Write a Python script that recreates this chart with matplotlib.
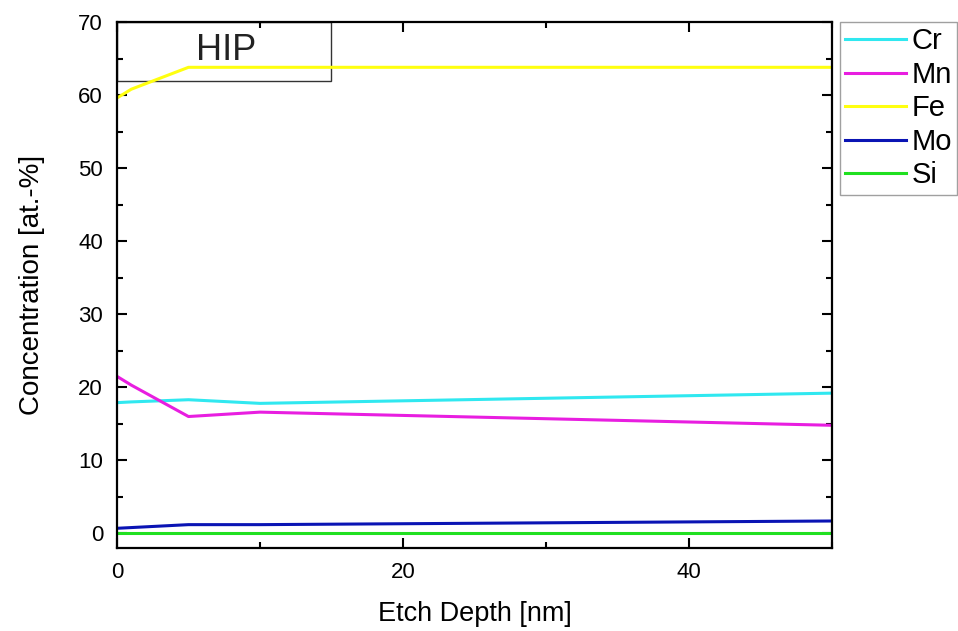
import matplotlib.pyplot as plt
from matplotlib.ticker import MultipleLocator

plt.rcParams['font.family'] = ['Liberation Sans', 'DejaVu Sans']

# Etch depth steps [nm] and concentrations [at.-%]
depth = [0, 1, 5, 10, 50]
cr = [17.9, 18.0, 18.3, 17.8, 19.2]
mn = [21.5, 20.3, 16.0, 16.6, 14.8]
fe = [59.6, 60.8, 63.8, 63.8, 63.8]
mo = [0.7, 0.8, 1.2, 1.2, 1.7]
si = [0.0, 0.0, 0.0, 0.0, 0.0]

elements = ['Cr', 'Mn', 'Fe', 'Mo', 'Si']
series = [cr, mn, fe, mo, si]
colors = ['#30e8f0', '#e81ee0', '#ffff10', '#0a14b4', '#20e020']

fig = plt.figure(figsize=(9.58, 6.31), dpi=100)
ax = fig.add_axes([0.1221, 0.1315, 0.7464, 0.8336])

for name, vals, c in zip(elements, series, colors):
    ax.plot(depth, vals, color=c, lw=2.2, label=name)

ax.set_xlim(0, 50)
ax.set_ylim(-2, 70)
ax.xaxis.set_major_locator(MultipleLocator(20))
ax.xaxis.set_minor_locator(MultipleLocator(10))
ax.yaxis.set_major_locator(MultipleLocator(10))
ax.yaxis.set_minor_locator(MultipleLocator(5))
ax.tick_params(which='both', direction='in', top=True, right=True, width=1.5)
ax.tick_params(which='major', length=7, labelsize=16, pad=10)
ax.tick_params(which='minor', length=4)
for s in ax.spines.values():
    s.set_linewidth(1.6)

ax.set_xlabel('Etch Depth [nm]', fontsize=19.5, labelpad=13)
ax.set_ylabel('Concentration [at.-%]', fontsize=20, labelpad=24)

# sample label box in the upper left corner
ax.add_patch(plt.Rectangle((0, 0.888), 0.3, 0.112, transform=ax.transAxes,
                           fill=False, ec='#333333', lw=1.0))
ax.text(0.153, 0.945, 'HIP', transform=ax.transAxes, ha='center', va='center',
        fontsize=26, color='#222222')

ax.legend(loc='upper left', bbox_to_anchor=(1.011, 1.0), fontsize=21,
          frameon=True, fancybox=False, edgecolor='#888888', handlelength=2.1,
          labelspacing=0.19, borderpad=0.18, handletextpad=0.18,
          borderaxespad=0)

fig.savefig('out.png', dpi=100)
